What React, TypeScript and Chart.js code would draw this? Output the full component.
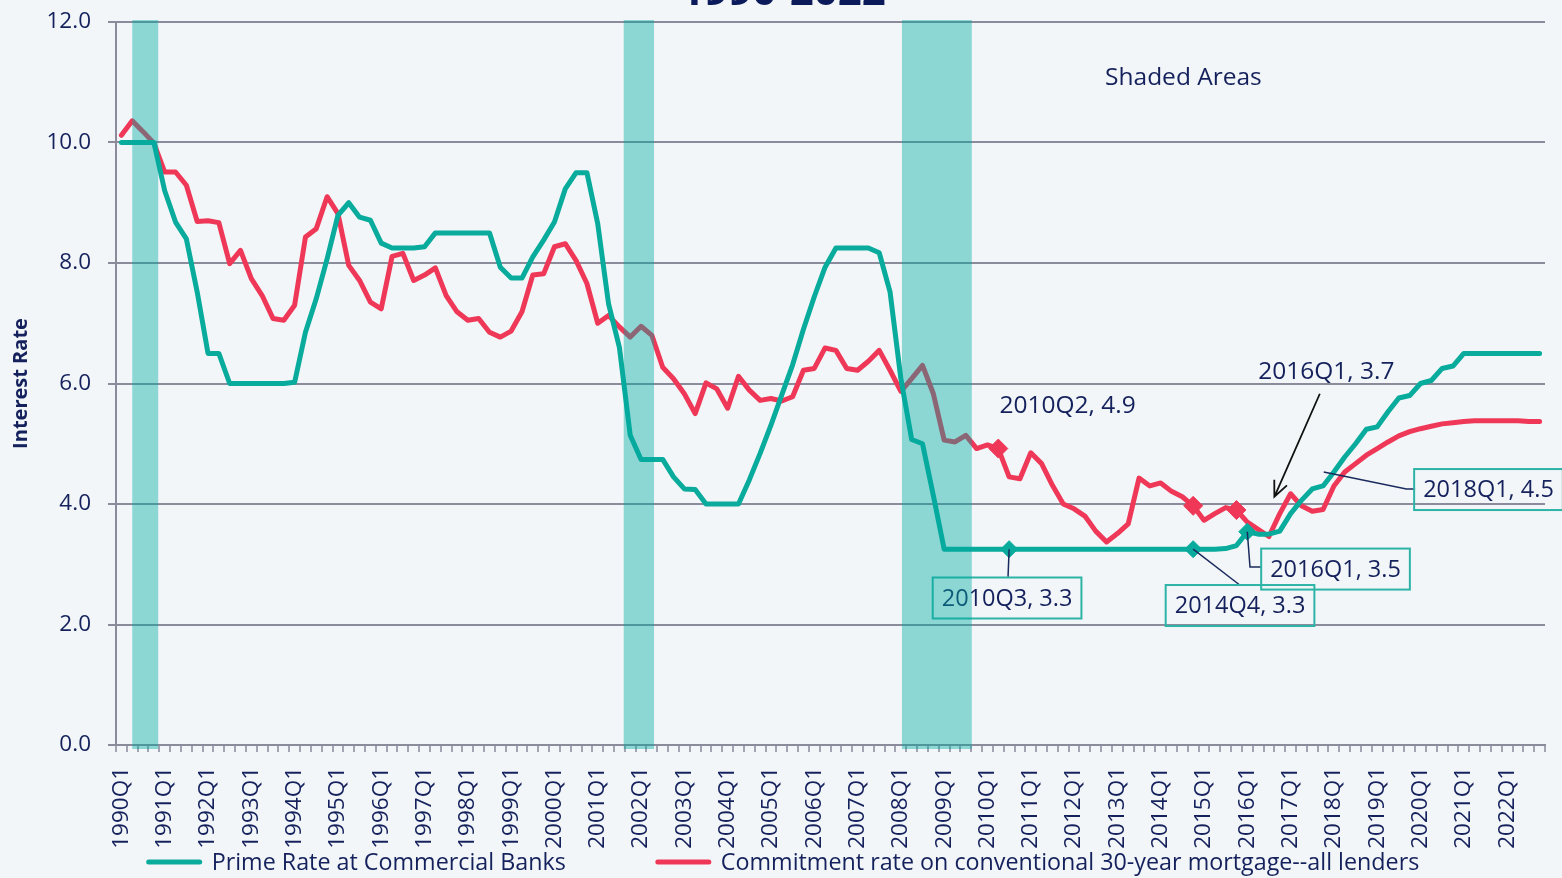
import React, { useEffect, useRef } from 'react';
import { Chart, registerables } from 'chart.js';

Chart.register(...registerables);

// ---------- DATA ----------
const years = [
  1990, 1991, 1992, 1993, 1994, 1995, 1996, 1997, 1998, 1999, 2000,
  2001, 2002, 2003, 2004, 2005, 2006, 2007, 2008, 2009, 2010,
  2011, 2012, 2013, 2014, 2015, 2016, 2017, 2018, 2019, 2020, 2021, 2022,
];
const quarterNames = ['Q1', 'Q2', 'Q3', 'Q4'];
const categories: string[] = years.flatMap((y) => quarterNames.map((q) => `${y}${q}`));

const primeRate = [
  10.0, 10.0, 10.0, 10.0, 9.2, 8.68, 8.4, 7.52, 6.5, 6.5,
  6.0, 6.0, 6.0, 6.0, 6.0, 6.0, 6.02, 6.85, 7.41, 8.07,
  8.79, 9.0, 8.76, 8.71, 8.33, 8.25, 8.25, 8.25, 8.27, 8.5,
  8.5, 8.5, 8.5, 8.5, 8.5, 7.93, 7.75, 7.75, 8.1, 8.38,
  8.68, 9.23, 9.5, 9.5, 8.65, 7.32, 6.6, 5.14, 4.74, 4.74,
  4.74, 4.45, 4.25, 4.24, 4.0, 4.0, 4.0, 4.0, 4.4, 4.84,
  5.31, 5.81, 6.31, 6.9, 7.44, 7.93, 8.25, 8.25, 8.25, 8.25,
  8.17, 7.52, 6.08, 5.07, 5.0, 4.14, 3.25, 3.25, 3.25, 3.25,
  3.25, 3.25, 3.25, 3.25, 3.25, 3.25, 3.25, 3.25, 3.25, 3.25,
  3.25, 3.25, 3.25, 3.25, 3.25, 3.25, 3.25, 3.25, 3.25, 3.25,
  3.25, 3.25, 3.26, 3.31, 3.54, 3.5, 3.5, 3.55, 3.84, 4.06,
  4.25, 4.3, 4.53, 4.78, 5.0, 5.24, 5.28, 5.53, 5.76, 5.8,
  6.0, 6.05, 6.25, 6.29, 6.5, 6.5, 6.5, 6.5, 6.5, 6.5,
  6.5, 6.5,
];

const mortgageRate = [
  10.12, 10.36, 10.18, 9.99, 9.51, 9.51, 9.29, 8.69, 8.7, 8.67,
  7.99, 8.21, 7.74, 7.46, 7.08, 7.05, 7.3, 8.43, 8.57, 9.1,
  8.82, 7.96, 7.71, 7.35, 7.24, 8.11, 8.16, 7.71, 7.8, 7.92,
  7.46, 7.19, 7.05, 7.08, 6.85, 6.77, 6.87, 7.19, 7.8, 7.82,
  8.27, 8.32, 8.04, 7.66, 7.0, 7.13, 6.94, 6.77, 6.95, 6.8,
  6.27, 6.08, 5.83, 5.5, 6.01, 5.91, 5.59, 6.12, 5.89, 5.72,
  5.75, 5.71, 5.78, 6.22, 6.25, 6.59, 6.55, 6.25, 6.22, 6.37,
  6.55, 6.22, 5.87, 6.08, 6.3, 5.83, 5.06, 5.03, 5.14, 4.92,
  4.98, 4.92, 4.45, 4.42, 4.85, 4.67, 4.31, 4.0, 3.92, 3.8,
  3.55, 3.37, 3.51, 3.67, 4.43, 4.3, 4.35, 4.21, 4.12, 3.97,
  3.73, 3.84, 3.94, 3.9, 3.7, 3.58, 3.46, 3.84, 4.17, 3.97,
  3.88, 3.91, 4.3, 4.53, 4.67, 4.81, 4.92, 5.03, 5.13, 5.2,
  5.25, 5.29, 5.33, 5.35, 5.37, 5.38, 5.38, 5.38, 5.38, 5.38,
  5.37, 5.37,
];

const seriesLabels = [
  'Prime Rate at Commercial Banks',
  'Commitment rate on conventional 30-year mortgage--all lenders',
];

const yMin = 0;
const yMax = 12;
const yStep = 2;

// recession shading, in quarter positions on the category axis
const shadeFrom = [1.0, 46.4, 72.1];
const shadeTo = [3.4, 49.2, 78.55];

const primeMarkers = ['2010Q3', '2014Q4', '2016Q1'];
const mortgageMarkers = ['2010Q2', '2014Q4', '2015Q4'];

const titleText = '1990-2022';
const yAxisTitle = 'Interest Rate';

// annotations (positions in data units: quarter index, rate)
const noteTexts = ['Shaded Areas', '2010Q2, 4.9', '2016Q1, 3.7'];
const noteX = [98.1, 87.4, 111.3];
const noteY = [11.07, 5.63, 6.19];

const boxTexts = ['2010Q3, 3.3', '2014Q4, 3.3', '2016Q1, 3.5', '2018Q1, 4.5'];
const boxX = [81.81, 103.33, 112.15, 126.28];
const boxY = [2.44, 2.315, 2.92, 4.24];

const leaderPaths: number[][][] = [
  [[82, 3.25], [81.9, 2.79]],
  [[99, 3.25], [103.3, 2.656]],
  [[104, 3.54], [104.25, 2.954], [105.35, 2.954]],
  [[111.06, 4.53], [118.7, 4.25], [119.5, 4.25]],
];
const arrowFrom = [110.7, 5.83];
const arrowTo = [106.5, 4.12];

// ---------- STYLE ----------
const NAVY = '#14215c';
const TEAL = '#08ab9c';
const RED = '#ef3858';
const BOX = '#2db4a7';
const GRID = '#8b8b9b';
const FONT = '"Open Sans", "Noto Sans", sans-serif';

const zeroPadding = (s: any) => {
  s.paddingLeft = 0;
  s.paddingRight = 0;
  s.paddingTop = 0;
  s.paddingBottom = 0;
};

const overlayPlugin = {
  id: 'overlay',
  beforeDraw(chart: any) {
    const { ctx, width, height } = chart;
    ctx.save();
    ctx.fillStyle = '#f2f6f8';
    ctx.fillRect(0, 0, width, height);
    ctx.restore();
  },
  afterDatasetsDraw(chart: any) {
    const { ctx, chartArea } = chart;
    const xs = chart.scales.x;
    const ys = chart.scales.y;
    const px = (v: number) => xs.getPixelForValue(v);
    const py = (v: number) => ys.getPixelForValue(v);
    ctx.save();

    // leader lines
    ctx.strokeStyle = '#1b2a5e';
    ctx.lineWidth = 1.5;
    leaderPaths.forEach((path) => {
      ctx.beginPath();
      path.forEach(([a, b], k) => {
        if (k === 0) ctx.moveTo(px(a), py(b));
        else ctx.lineTo(px(a), py(b));
      });
      ctx.stroke();
    });

    // arrow
    const ax0 = px(arrowFrom[0]);
    const ay0 = py(arrowFrom[1]);
    const ax1 = px(arrowTo[0]);
    const ay1 = py(arrowTo[1]);
    ctx.strokeStyle = '#111111';
    ctx.lineWidth = 1.8;
    ctx.beginPath();
    ctx.moveTo(ax0, ay0);
    ctx.lineTo(ax1, ay1);
    const ang = Math.atan2(ay1 - ay0, ax1 - ax0);
    const hl = 17;
    ctx.moveTo(ax1 - hl * Math.cos(ang - 0.42), ay1 - hl * Math.sin(ang - 0.42));
    ctx.lineTo(ax1, ay1);
    ctx.lineTo(ax1 - hl * Math.cos(ang + 0.42), ay1 - hl * Math.sin(ang + 0.42));
    ctx.stroke();

    // boxed labels
    ctx.font = `23.5px ${FONT}`;
    ctx.textAlign = 'center';
    ctx.textBaseline = 'middle';
    boxTexts.forEach((t, i) => {
      const cx = px(boxX[i]);
      const cy = py(boxY[i]);
      const w = ctx.measureText(t).width + 18;
      const h = 41;
      ctx.strokeStyle = BOX;
      ctx.lineWidth = 2;
      ctx.strokeRect(cx - w / 2, cy - h / 2, w, h);
      ctx.fillStyle = NAVY;
      ctx.fillText(t, cx, cy + 1);
    });

    // free notes
    ctx.font = `24.5px ${FONT}`;
    noteTexts.forEach((t, i) => {
      ctx.fillStyle = NAVY;
      ctx.fillText(t, px(noteX[i]), py(noteY[i]));
    });

    // recession shading (on top)
    ctx.fillStyle = 'rgba(0,170,160,0.42)';
    shadeFrom.forEach((s, i) => {
      const x0 = px(s);
      const x1 = px(shadeTo[i]);
      ctx.fillRect(x0, chartArea.top - 2, x1 - x0, chartArea.bottom - chartArea.top + 6);
    });
    ctx.restore();
  },
  afterDraw(chart: any) {
    const { ctx } = chart;
    ctx.save();
    // cut-off title
    ctx.font = `bold 42px ${FONT}`;
    ctx.fillStyle = '#0b1a5a';
    ctx.textAlign = 'center';
    ctx.textBaseline = 'alphabetic';
    ctx.fillText(titleText, 783, 5);

    // legend
    ctx.font = `23.3px ${FONT}`;
    ctx.textAlign = 'left';
    ctx.textBaseline = 'middle';
    const items = chart.data.datasets.map((d: any) => ({ label: d.label, color: d.borderColor }));
    const sample = 55;
    const gap = 10;
    const spacing = 90;
    const widths = items.map((it: any) => sample + gap + ctx.measureText(it.label).width);
    const total = widths.reduce((a: number, b: number) => a + b, 0) + spacing * (items.length - 1);
    let x = chart.width / 2 - total / 2 + 2;
    const y = 862;
    items.forEach((it: any, i: number) => {
      ctx.strokeStyle = it.color;
      ctx.lineWidth = 5;
      ctx.lineCap = 'round';
      ctx.beginPath();
      ctx.moveTo(x + 2, y);
      ctx.lineTo(x + sample - 2, y);
      ctx.stroke();
      ctx.fillStyle = NAVY;
      ctx.fillText(it.label, x + sample + gap, y + 1);
      x += widths[i] + spacing;
    });
    ctx.restore();
  },
};

export default function App() {
  const canvasRef = useRef<HTMLCanvasElement | null>(null);

  useEffect(() => {
    const canvas = canvasRef.current;
    if (!canvas) return;
    const markerRadius = (list: string[], r: number) => (c: any) =>
      list.includes(categories[c.dataIndex]) ? r : 0;

    const chart = new Chart(canvas, {
      type: 'line',
      data: {
        labels: categories,
        datasets: [
          {
            label: seriesLabels[0],
            data: primeRate,
            borderColor: TEAL,
            backgroundColor: TEAL,
            borderWidth: 5,
            tension: 0,
            borderJoinStyle: 'round',
            borderCapStyle: 'round',
            pointStyle: 'rectRot',
            pointRadius: markerRadius(primeMarkers, 8.5),
            pointBorderWidth: 1,
            pointBorderColor: TEAL,
            pointBackgroundColor: TEAL,
            fill: false,
          },
          {
            label: seriesLabels[1],
            data: mortgageRate,
            borderColor: RED,
            backgroundColor: RED,
            borderWidth: 5,
            tension: 0,
            borderJoinStyle: 'round',
            borderCapStyle: 'round',
            pointStyle: 'rectRot',
            pointRadius: markerRadius(mortgageMarkers, 9.5),
            pointBorderWidth: 1,
            pointBorderColor: RED,
            pointBackgroundColor: RED,
            fill: false,
          },
        ],
      },
      options: {
        animation: false,
        responsive: false,
        events: [],
        layout: { padding: { left: 0, right: 17, top: 22, bottom: 0 } },
        plugins: {
          legend: { display: false },
          tooltip: { enabled: false },
          title: { display: false },
        },
        scales: {
          x: {
            type: 'category',
            offset: true,
            afterFit: (s: any) => {
              s.height = 133;
              zeroPadding(s);
            },
            grid: {
              offset: true,
              drawOnChartArea: false,
              drawTicks: true,
              tickLength: 7,
              color: '#a3a3b2',
              lineWidth: 2,
            },
            border: { color: GRID, width: 2 },
            ticks: {
              autoSkip: false,
              minRotation: 90,
              maxRotation: 90,
              padding: 15,
              color: NAVY,
              font: { family: FONT, size: 22.5 },
              callback: (_v: any, i: number) => (categories[i].endsWith('Q1') ? categories[i] : ''),
            },
          },
          y: {
            min: yMin,
            max: yMax,
            afterFit: (s: any) => {
              s.width = 116;
              zeroPadding(s);
            },
            ticks: {
              stepSize: yStep,
              padding: 17,
              color: NAVY,
              font: { family: FONT, size: 22.5 },
              callback: (v: any) => Number(v).toFixed(1),
            },
            grid: { color: GRID, lineWidth: 2, tickLength: 8 },
            border: { color: GRID, width: 2 },
            title: {
              display: true,
              text: yAxisTitle,
              color: NAVY,
              font: { family: FONT, size: 20, weight: 'bold' },
              padding: { top: 9, bottom: 4 },
            },
          },
        },
      },
      plugins: [overlayPlugin],
    } as any);

    return () => chart.destroy();
  }, []);

  return (
    <div style={{ position: 'fixed', left: 0, top: 0, width: 1562, height: 878, overflow: 'hidden' }}>
      <canvas ref={canvasRef} width={1562} height={878} style={{ display: 'block' }} />
    </div>
  );
}
